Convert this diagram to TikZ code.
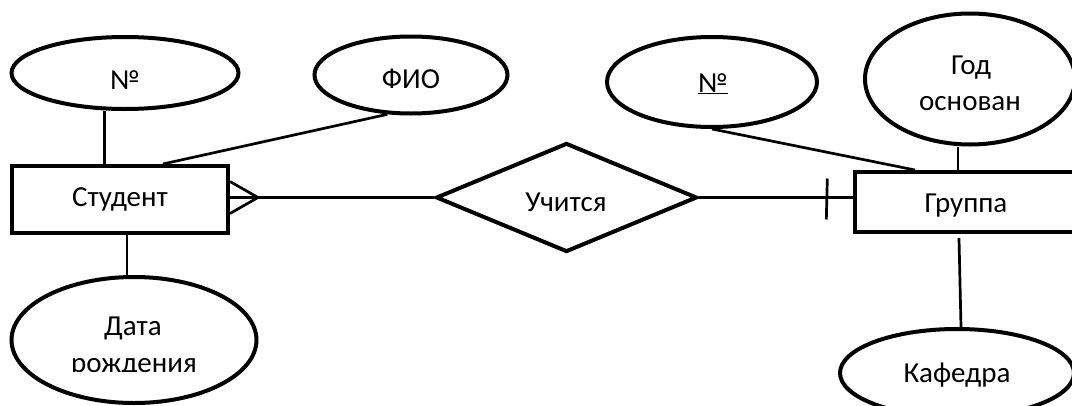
\documentclass[tikz,border=0pt]{standalone}
\usepackage{fontspec}
\setmainfont{Carlito}
\usetikzlibrary{shapes.geometric,calc}
\begin{document}
\begin{tikzpicture}[x=1pt,y=-1pt,
  attr/.style={draw, ellipse, line width=4pt, inner sep=0pt},
  ent/.style={draw, rectangle, line width=4pt, inner sep=0pt},
  rel/.style={draw, diamond, line width=4pt, inner sep=0pt},
  conn/.style={line width=2.7pt},
  lbl/.style={font=\fontsize{29}{35}\selectfont, inner sep=0pt, anchor=base}]
\useasboundingbox (0,0) rectangle (1072,405);

% entities
\node[ent, minimum width=216, minimum height=67] (stud) at (120,199.5) {};
\node[ent, minimum width=222, minimum height=60] (grp) at (966,202) {};
% relationship
\node[rel, minimum width=261, minimum height=109] (rel) at (566.5,197.5) {};
% attributes
\node[attr, minimum width=227, minimum height=72] (aNoA) at (125,73) {};
\node[attr, minimum width=193, minimum height=77] (aFIO) at (411,75) {};
\node[attr, minimum width=245, minimum height=126] (aDate) at (134,340) {};
\node[attr, minimum width=210, minimum height=90] (aNoB) at (712,82) {};
\node[attr, minimum width=210, minimum height=131] (aGod) at (970,79) {};
\node[attr, minimum width=234, minimum height=88] (aKaf) at (957,373) {};

% labels
\node[lbl] (tStud) at (120,206) {Студент};
\node[lbl] (tGrp) at (966,212) {Группа};
\node[lbl] (tRel) at (566,211) {Учится};
\node[lbl] (tNoA) at (125,89) {№};
\node[lbl] (tFIO) at (411,88) {ФИО};
\node[lbl] (tNoB) at (713,92) {\underline{№}};
\node[lbl] (tGod1) at (971,74) {Год};
\node[lbl] (tGod2) at (970,110) {основан};
\node[lbl] (tDate1) at (133,335) {Дата};
\begin{scope}
  \clip (0,0) rectangle (1072,371);
  \node[lbl] (tDate2) at (134,372) {рождения};
\end{scope}
\node[lbl] (tKaf) at (957,382) {Кафедра};

% connectors: Студент
\draw[conn] ($(stud.north west)!0.43!(stud.north east)$) coordinate (sN) -- (sN |- aNoA.south);
\draw[conn] ($(stud.north west)!0.695!(stud.north east)$) -- (aFIO.239.5);
\draw[conn] ($(stud.south west)!0.532!(stud.south east)$) coordinate (sS) -- (sS |- aDate.north);
% many side (crow's foot)
\coordinate (sE) at (stud.east |- rel.west);
\coordinate (cf) at ($(sE)+(28,0)$);
\draw[conn] (sE) -- (rel.west);
\draw[conn] ($(sE)+(0,-16)$) -- (cf) -- ($(sE)+(0,16)$);
% one side
\coordinate (gW) at (grp.west |- rel.east);
\draw[conn] (rel.east) -- (gW);
\coordinate (tk) at ($(rel.east)!0.83!(gW)$);
\draw[conn] ($(tk)+(0.5,-19)$) -- ($(tk)+(-0.5,22)$);
% connectors: Группа
\draw[conn] (aNoB.south) -- ($(grp.north west)+(62,0)$);
\draw[conn] ($(grp.north west)+(105,0)$) coordinate (gN) -- (gN |- aGod.south);
\draw[conn] ($(grp.south)+(-7,4)$) -- ($(aKaf.north)+(4,0)$);
\end{tikzpicture}
\end{document}
